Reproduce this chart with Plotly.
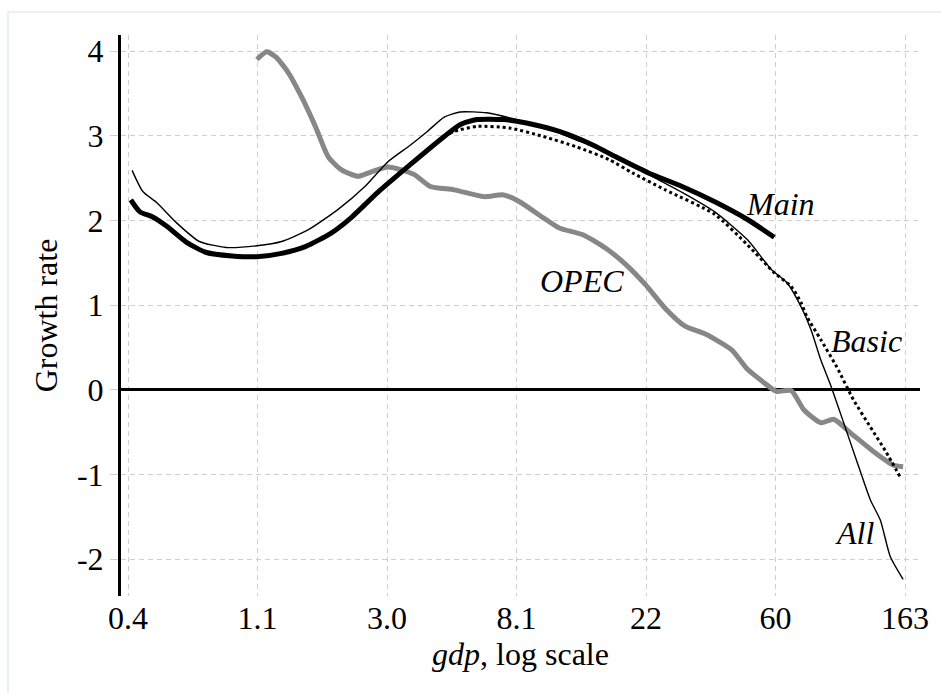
import plotly.graph_objects as go

# ---------------- data ----------------
main_x = [0.413, 0.443, 0.489, 0.545, 0.635, 0.740, 0.902, 1.093, 1.323, 1.590,
          1.940, 2.260, 2.779, 3.578, 4.641, 5.246, 5.975, 7.345, 8.759, 11.28,
          14.62, 17.45, 22.46, 29.13, 37.50, 48.27, 59.35]
main_y = [2.24, 2.10, 2.04, 1.93, 1.74, 1.62, 1.58, 1.57, 1.61, 1.69,
          1.85, 2.03, 2.33, 2.66, 2.99, 3.13, 3.19, 3.19, 3.15, 3.05,
          2.89, 2.75, 2.56, 2.40, 2.22, 2.01, 1.80]

all_x = [0.417, 0.453, 0.504, 0.588, 0.701, 0.862, 1.093, 1.323, 1.627, 2.046,
         2.516, 3.000, 3.578, 4.075, 4.641, 5.246, 6.450, 8.115, 9.98, 12.84,
         16.53, 20.33, 24.24, 29.13, 37.50, 48.27, 58.00, 65.57, 72.97, 78.76,
         85.04, 91.80, 101.4, 111.9, 124.6, 134.6, 145.3, 160.5]
all_y = [2.59, 2.34, 2.21, 1.97, 1.75, 1.68, 1.70, 1.75, 1.89, 2.13,
         2.40, 2.69, 2.89, 3.05, 3.22, 3.28, 3.27, 3.19, 3.11, 2.95,
         2.81, 2.63, 2.48, 2.33, 2.10, 1.77, 1.42, 1.26, 0.98, 0.71,
         0.35, 0.05, -0.39, -0.83, -1.30, -1.54, -1.97, -2.24]

basic_x = [0.413, 0.443, 0.489, 0.545, 0.635, 0.740, 0.902, 1.093, 1.323, 1.590,
           1.940, 2.260, 2.779, 3.578, 4.641, 5.010, 5.975, 7.693, 9.98, 12.84,
           16.53, 19.86, 25.58, 37.50, 48.27, 59.35, 67.60, 72.97, 76.40, 85.04,
           96.10, 109.4, 124.6, 140.9, 156.8]
basic_y = [2.24, 2.10, 2.04, 1.93, 1.74, 1.62, 1.58, 1.57, 1.61, 1.69,
           1.85, 2.03, 2.33, 2.66, 2.99, 3.05, 3.11, 3.09, 2.99, 2.87,
           2.72, 2.56, 2.36, 2.07, 1.71, 1.38, 1.22, 1.03, 0.86, 0.59,
           0.27, -0.12, -0.44, -0.74, -1.03]

opec_x = [1.093, 1.179, 1.264, 1.396, 1.542, 1.716, 1.896, 2.094, 2.385, 2.634,
          3.000, 3.314, 3.689, 4.170, 5.010, 6.304, 7.345, 8.303, 9.98, 11.28,
          13.55, 16.16, 18.84, 21.95, 25.58, 29.81, 34.74, 42.71, 48.27, 54.98,
          60.27, 67.60, 74.66, 85.04, 93.93, 106.9, 127.6, 148.7, 160.5]
opec_y = [3.90, 3.99, 3.93, 3.74, 3.46, 3.11, 2.75, 2.60, 2.52, 2.57,
          2.63, 2.60, 2.54, 2.40, 2.36, 2.28, 2.30, 2.22, 2.03, 1.91,
          1.83, 1.67, 1.48, 1.24, 0.96, 0.75, 0.66, 0.47, 0.24, 0.08,
          -0.02, -0.01, -0.24, -0.39, -0.35, -0.51, -0.73, -0.89, -0.91]

tick_vals = [0.4040, 1.0983, 2.9856, 8.1157, 22.06, 59.97, 163.0]
tick_text = ["0.4", "1.1", "3.0", "8.1", "22", "60", "163"]
y_ticks = [-2, -1, 0, 1, 2, 3, 4]
y_tick_text = ["-2", "-1", "0", "1", "2", "3", "4"]

FONT = "Liberation Serif"

fig = go.Figure()
fig.add_trace(go.Scatter(x=opec_x, y=opec_y, mode="lines",
                         line=dict(color="#878787", width=5, shape="spline", smoothing=0.6),
                         hoverinfo="skip"))
fig.add_trace(go.Scatter(x=basic_x, y=basic_y, mode="lines",
                         line=dict(color="black", width=3, dash="3px,3px", shape="spline", smoothing=0.6),
                         hoverinfo="skip"))
fig.add_trace(go.Scatter(x=all_x, y=all_y, mode="lines",
                         line=dict(color="black", width=1.4, shape="spline", smoothing=0.6),
                         hoverinfo="skip"))
fig.add_trace(go.Scatter(x=main_x, y=main_y, mode="lines",
                         line=dict(color="black", width=5, shape="spline", smoothing=0.6),
                         hoverinfo="skip"))

labels = [("<i>Main</i>", 0.826, 0.699), ("<i>OPEC</i>", 0.577, 0.5615),
          ("<i>Basic</i>", 0.9336, 0.4545), ("<i>All</i>", 0.918, 0.1123)]
for txt, ax, ay in labels:
    fig.add_annotation(text=txt, x=ax, y=ay, xref="paper", yref="paper",
                       showarrow=False, xanchor="center", yanchor="middle",
                       font=dict(family=FONT, size=32, color="black"))

# light outer frame
fig.add_shape(type="rect", xref="paper", yref="paper",
              x0=-0.1414, x1=1.2, y0=-0.3, y1=1.041,
              line=dict(color="#e6ecee", width=1.5), layer="below")

fig.update_layout(
    width=941, height=693,
    margin=dict(l=121, r=14, t=35, b=97),
    paper_bgcolor="white", plot_bgcolor="white",
    showlegend=False,
    font=dict(family=FONT, size=32, color="black"),
    xaxis=dict(type="log", range=[-0.4171, 2.2621],
               tickvals=tick_vals, ticktext=tick_text,
               showgrid=True, gridcolor="#cfcfcf", gridwidth=1, griddash="5px,4px",
               zeroline=False, showline=False, ticks="",
               tickfont=dict(family=FONT, size=32),
               title=dict(text="<i>gdp</i>, log scale", font=dict(family=FONT, size=32), standoff=2)),
    yaxis=dict(range=[-2.437, 4.189], tickvals=y_ticks, ticktext=y_tick_text,
               showgrid=True, gridcolor="#cfcfcf", gridwidth=1, griddash="5px,4px",
               zeroline=True, zerolinecolor="black", zerolinewidth=2.5,
               showline=True, linecolor="black", linewidth=3,
               ticks="outside", ticklen=8, tickcolor="#cfcfcf", tickwidth=1,
               tickfont=dict(family=FONT, size=32),
               title=dict(text="Growth rate", font=dict(family=FONT, size=32), standoff=10)),
)

fig.write_html("out.html")
